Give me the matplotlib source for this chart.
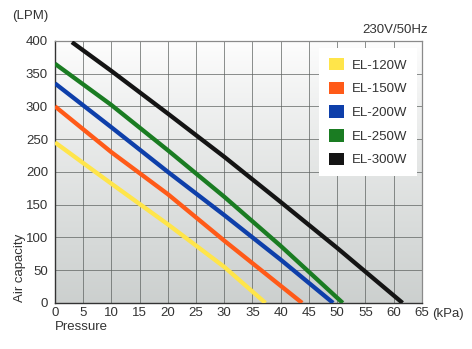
import numpy as np
import matplotlib
matplotlib.use("Agg")
import matplotlib.pyplot as plt
from matplotlib.patches import Patch

# ===========================
# DATA (air capacity vs pressure)
# ===========================
models = ["EL-120W", "EL-150W", "EL-200W", "EL-250W", "EL-300W"]
colors = ["#FFE54A", "#FF5A18", "#0E3FAA", "#1A7C22", "#141414"]

p_120 = [0, 10, 20, 30, 37.3]
q_120 = [245, 182, 120, 55, 0]

p_150 = [0, 10, 20, 30, 43.8]
q_150 = [300, 230, 166, 95, 0]

p_200 = [0, 10, 20, 30, 40, 49.3]
q_200 = [335, 268, 200, 134, 66, 0]

p_250 = [0, 10, 20, 30, 40, 51.0]
q_250 = [365, 302, 233, 162, 87, 0]

p_300 = [3, 10, 20, 30, 40, 50, 61.6]
q_300 = [398, 354, 289, 223, 154, 84, 0]

x_ticks = list(range(0, 70, 5))
y_ticks = list(range(0, 450, 50))

series = [(p_120, q_120), (p_150, q_150), (p_200, q_200), (p_250, q_250), (p_300, q_300)]

# ===========================
# FIGURE
# ===========================
plt.rcParams["font.family"] = ["Liberation Sans", "DejaVu Sans"]
TEXT = "#333333"
FS = 9.5

fig = plt.figure(figsize=(4.72, 3.49), dpi=100)
ax = fig.add_axes([0.1165, 0.132, 0.777, 0.751])

# light grey shading, white at the top
grad = np.linspace(0, 1, 256).reshape(-1, 1)
top = np.array([0.995, 0.995, 0.995])
bottom = np.array([0.80, 0.815, 0.81])
img = top + (bottom - top) * grad[..., None] ** 0.9
ax.imshow(img, extent=[0, 65, 0, 400], aspect="auto", zorder=0)

ax.set_xlim(0, 65)
ax.set_ylim(0, 400)
ax.set_xticks(x_ticks)
ax.set_yticks(y_ticks)
ax.grid(True, color="#5d6260", linewidth=0.5, zorder=1)
ax.tick_params(length=0, labelsize=FS, labelcolor=TEXT, pad=5)
ax.tick_params(axis="x", pad=3)

for side in ["left", "bottom"]:
    ax.spines[side].set_color("#333333")
    ax.spines[side].set_linewidth(1.0)
for side in ["top", "right"]:
    ax.spines[side].set_color("#8a8a8a")
    ax.spines[side].set_linewidth(0.9)

for (p, q), c in zip(series, colors):
    ax.plot(p, q, color=c, linewidth=3.1, solid_capstyle="butt", zorder=3)

handles = [Patch(facecolor=c, edgecolor="none") for c in colors]
leg = ax.legend(handles, models, loc="upper right", bbox_to_anchor=(0.987, 0.973),
                borderaxespad=0, fontsize=FS, frameon=True, fancybox=False,
                handlelength=1.1, handleheight=1.1, handletextpad=0.6,
                labelspacing=0.75, borderpad=0.75, labelcolor=TEXT)
leg.get_frame().set_facecolor("white")
leg.get_frame().set_edgecolor("none")
leg.get_frame().set_alpha(1)
leg.set_zorder(5)

fig.text(12 / 472, 1 - 16 / 349, "(LPM)", fontsize=FS, color=TEXT, va="center", ha="left")
fig.text(428 / 472, 1 - 30 / 349, "230V/50Hz", fontsize=FS, color=TEXT, va="center", ha="right")
fig.text(432 / 472, 1 - 314 / 349, "(kPa)", fontsize=FS, color=TEXT, va="center", ha="left")
fig.text(55 / 472, 1 - 327 / 349, "Pressure", fontsize=FS, color=TEXT, va="center", ha="left")
fig.text(20 / 472, 1 - 268 / 349, "Air capacity", fontsize=FS, color=TEXT, va="center",
         ha="center", rotation=90)

fig.savefig("out.png", dpi=100)
